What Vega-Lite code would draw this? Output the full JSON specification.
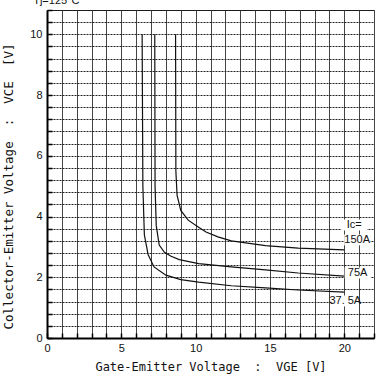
{
  "$schema": "https://vega.github.io/schema/vega-lite/v6.json",
  "autosize": "none",
  "width": 327,
  "height": 328,
  "padding": {"left": 47, "top": 10, "right": 3, "bottom": 43},
  "background": "white",
  "config": {
    "view": {"stroke": "#111", "strokeWidth": 1},
    "axis": {"labelFont": "Liberation Sans", "labelFontSize": 11, "labelColor": "#111", "titleFont": "DejaVu Sans Mono", "titleFontWeight": "normal", "titleColor": "#111", "domainColor": "#000", "domainWidth": 2, "tickColor": "#000", "tickWidth": 1.5, "tickSize": -5}
  },
  "datasets": {
    "curves": [
      {"Ic": "37.5A", "i": 0, "VGE": 6.4, "VCE": 10.0},
      {"Ic": "37.5A", "i": 1, "VGE": 6.45, "VCE": 5.0},
      {"Ic": "37.5A", "i": 2, "VGE": 6.55, "VCE": 3.4},
      {"Ic": "37.5A", "i": 3, "VGE": 6.8, "VCE": 2.75},
      {"Ic": "37.5A", "i": 4, "VGE": 7.2, "VCE": 2.34},
      {"Ic": "37.5A", "i": 5, "VGE": 8.0, "VCE": 2.07},
      {"Ic": "37.5A", "i": 6, "VGE": 9.0, "VCE": 1.92},
      {"Ic": "37.5A", "i": 7, "VGE": 10.2, "VCE": 1.84},
      {"Ic": "37.5A", "i": 8, "VGE": 12.4, "VCE": 1.72},
      {"Ic": "37.5A", "i": 9, "VGE": 14.7, "VCE": 1.65},
      {"Ic": "37.5A", "i": 10, "VGE": 16.9, "VCE": 1.58},
      {"Ic": "37.5A", "i": 11, "VGE": 20.0, "VCE": 1.51},
      {"Ic": "75A", "i": 0, "VGE": 7.25, "VCE": 10.0},
      {"Ic": "75A", "i": 1, "VGE": 7.27, "VCE": 5.0},
      {"Ic": "75A", "i": 2, "VGE": 7.35, "VCE": 3.7},
      {"Ic": "75A", "i": 3, "VGE": 7.55, "VCE": 3.06},
      {"Ic": "75A", "i": 4, "VGE": 7.9, "VCE": 2.82},
      {"Ic": "75A", "i": 5, "VGE": 8.35, "VCE": 2.69},
      {"Ic": "75A", "i": 6, "VGE": 8.9, "VCE": 2.58},
      {"Ic": "75A", "i": 7, "VGE": 10.2, "VCE": 2.45},
      {"Ic": "75A", "i": 8, "VGE": 12.4, "VCE": 2.34},
      {"Ic": "75A", "i": 9, "VGE": 14.7, "VCE": 2.24},
      {"Ic": "75A", "i": 10, "VGE": 16.9, "VCE": 2.14},
      {"Ic": "75A", "i": 11, "VGE": 20.0, "VCE": 2.04},
      {"Ic": "150A", "i": 0, "VGE": 8.65, "VCE": 10.0},
      {"Ic": "150A", "i": 1, "VGE": 8.67, "VCE": 5.5},
      {"Ic": "150A", "i": 2, "VGE": 8.75, "VCE": 4.7},
      {"Ic": "150A", "i": 3, "VGE": 9.0, "VCE": 4.2},
      {"Ic": "150A", "i": 4, "VGE": 9.5, "VCE": 3.88},
      {"Ic": "150A", "i": 5, "VGE": 10.2, "VCE": 3.65},
      {"Ic": "150A", "i": 6, "VGE": 10.7, "VCE": 3.49},
      {"Ic": "150A", "i": 7, "VGE": 11.5, "VCE": 3.33},
      {"Ic": "150A", "i": 8, "VGE": 12.4, "VCE": 3.2},
      {"Ic": "150A", "i": 9, "VGE": 14.7, "VCE": 3.04},
      {"Ic": "150A", "i": 10, "VGE": 16.9, "VCE": 2.96},
      {"Ic": "150A", "i": 11, "VGE": 20.0, "VCE": 2.9}
    ],
    "labels": [
      {"text": "Ic=", "VGE": 20.67, "VCE": 3.72},
      {"text": "150A", "VGE": 20.87, "VCE": 3.23},
      {"text": "75A", "VGE": 20.9, "VCE": 2.14},
      {"text": "37. 5A", "VGE": 20.07, "VCE": 1.22}
    ],
    "note": [
      {"text": "Tj=125°C", "VGE": -0.93, "VCE": 11.0}
    ]
  },
  "encoding": {
    "x": {"field": "VGE", "type": "quantitative",
      "scale": {"domain": [0, 22], "nice": false, "zero": false},
      "axis": {"values": [0,1,2,3,4,5,6,7,8,9,10,11,12,13,14,15,16,17,18,19,20,21,22],
        "labelExpr": "datum.value % 5 == 0 ? datum.label : ''",
        "labelOverlap": false, "format": "d",
        "grid": true, "gridColor": "#444", "gridWidth": 1,
        "labelPadding": 9, "labelFlush": false,
        "title": "Gate-Emitter Voltage\u00a0\u00a0:\u00a0\u00a0VGE\u00a0[V]", "titleFontSize": 12, "titlePadding": 8}},
    "y": {"field": "VCE", "type": "quantitative",
      "scale": {"domain": [0, 10.8], "nice": false, "zero": false},
      "axis": {"values": [0,0.4,0.8,1.2,1.6,2,2.4,2.8,3.2,3.6,4,4.4,4.8,5.2,5.6,6,6.4,6.8,7.2,7.6,8,8.4,8.8,9.2,9.6,10,10.4,10.8],
        "labelExpr": "(datum.value == 0 || datum.value == 2 || datum.value == 4 || datum.value == 6 || datum.value == 8 || datum.value == 10) ? datum.label : ''",
        "labelOverlap": false, "format": "~g",
        "grid": true, "gridColor": "#222", "gridWidth": 1, "gridDash": [2, 1],
        "labelPadding": 10, "labelFlush": false,
        "title": "Collector-Emitter Voltage\u00a0\u00a0:\u00a0\u00a0VCE\u00a0\u00a0[V]", "titleFontSize": 12.5,
        "titleX": -32, "titleY": 176}}
  },
  "layer": [
    {
      "data": {"name": "curves"},
      "mark": {"type": "line", "color": "#111", "strokeWidth": 1.2, "clip": true},
      "encoding": {
        "detail": {"field": "Ic"},
        "order": {"field": "i", "type": "quantitative"}
      }
    },
    {
      "data": {"name": "labels"},
      "mark": {"type": "point", "shape": "M-1,-0.42H1V0.42H-1Z", "size": 676, "filled": true, "color": "white", "opacity": 1, "strokeWidth": 0},
      "encoding": {}
    },
    {
      "data": {"name": "labels"},
      "mark": {"type": "text", "font": "Liberation Sans", "fontSize": 11, "color": "#111", "align": "center", "baseline": "middle"},
      "encoding": {
        "text": {"field": "text"}
      }
    },
    {
      "data": {"name": "note"},
      "mark": {"type": "text", "font": "Liberation Sans", "fontSize": 11, "color": "#111", "align": "left", "baseline": "alphabetic", "clip": false},
      "encoding": {
        "text": {"field": "text"}
      }
    }
  ]
}
